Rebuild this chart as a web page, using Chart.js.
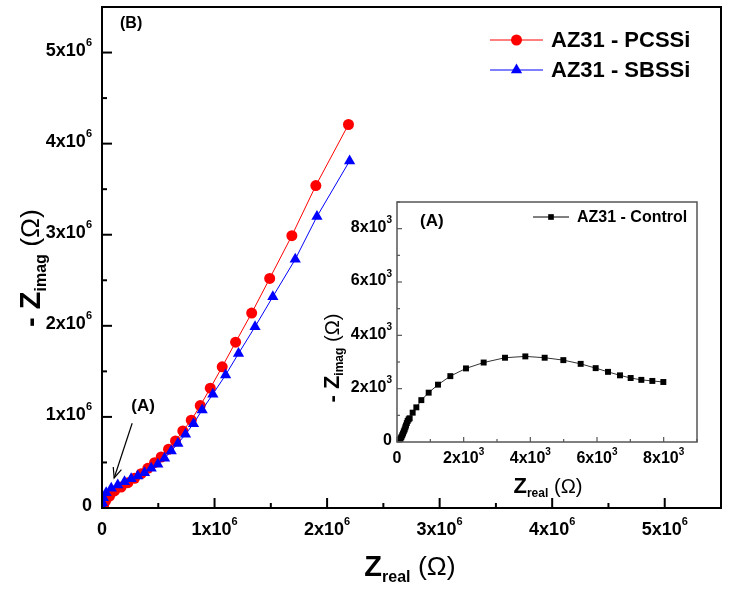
<!DOCTYPE html>
<html>
<head>
<meta charset="utf-8">
<script src="https://cdn.jsdelivr.net/npm/chart.js@4.4.0/dist/chart.umd.min.js"></script>
<style>
  html, body { margin: 0; padding: 0; background: #fff; }
  #wrap { position: relative; width: 729px; height: 591px; }
  #wrap canvas { position: absolute; left: 0; top: 0; }
  #inset { pointer-events: none; }
</style>
</head>
<body>
<div id="wrap">
  <canvas id="main" width="729" height="591"></canvas>
  <canvas id="inset" width="729" height="591"></canvas>
</div>
<script>
// main plot, values in ohm x 1e6
const pcssiRe = [0.004, 0.013, 0.031, 0.067, 0.111, 0.17, 0.23, 0.289, 0.348, 0.407, 0.467, 0.526, 0.591, 0.653, 0.718, 0.793, 0.873, 0.962, 1.068, 1.187, 1.33, 1.49, 1.687, 1.90, 2.19];
const pcssiIm = [0.005, 0.02, 0.077, 0.13, 0.187, 0.23, 0.278, 0.326, 0.377, 0.436, 0.498, 0.56, 0.645, 0.736, 0.846, 0.964, 1.124, 1.315, 1.55, 1.82, 2.14, 2.52, 2.99, 3.54, 4.21];
const sbssiRe = [0.002, 0.004, 0.013, 0.037, 0.082, 0.14, 0.2, 0.259, 0.318, 0.378, 0.437, 0.496, 0.556, 0.615, 0.674, 0.742, 0.813, 0.89, 0.985, 1.098, 1.213, 1.36, 1.518, 1.717, 1.91, 2.2];
const sbssiIm = [0.01, 0.058, 0.113, 0.168, 0.216, 0.253, 0.289, 0.322, 0.352, 0.388, 0.436, 0.48, 0.546, 0.626, 0.707, 0.81, 0.926, 1.077, 1.25, 1.46, 1.696, 1.99, 2.32, 2.73, 3.20, 3.81];

// inset, values in ohm
const controlRe = [20, 50, 80, 105, 130, 155, 180, 205, 230, 250, 270, 295, 320, 350, 380, 470, 580, 730, 950, 1230, 1600, 2070, 2600, 3240, 3850, 4430, 4990, 5510, 5960, 6330, 6690, 7010, 7330, 7660, 7990];
const controlIm = [0, 30, 80, 130, 180, 250, 320, 400, 470, 550, 620, 710, 790, 850, 890, 1100, 1300, 1570, 1850, 2150, 2470, 2760, 2980, 3160, 3210, 3160, 3070, 2930, 2770, 2630, 2500, 2400, 2330, 2290, 2250];

const mainTicks = [0, 1, 2, 3, 4, 5];   // x10^6
const insetTicks = [0, 2, 4, 6, 8];     // x10^3

const FONT = '"Liberation Sans", Arial, sans-serif';

const toPts = (xs, ys, k) => xs.map((x, i) => ({ x: x * k, y: ys[i] * k }));

// draw a run of text pieces (for sub/superscripts)
function drawParts(ctx, parts, x, y, align) {
    let w = 0;
    parts.forEach(p => { ctx.font = p.font; w += ctx.measureText(p.text).width; });
    let cx = align === 'right' ? x - w : align === 'center' ? x - w / 2 : x;
    ctx.textBaseline = 'middle';
    ctx.textAlign = 'left';
    parts.forEach(p => {
        ctx.font = p.font;
        ctx.fillText(p.text, cx, y + (p.dy || 0));
        cx += ctx.measureText(p.text).width;
    });
}

function tickParts(m, exp, big, small, rise) {
    if (m === 0) return [{ text: '0', font: 'bold ' + big + 'px ' + FONT }];
    return [
        { text: m + 'x10', font: 'bold ' + big + 'px ' + FONT },
        { text: String(exp), font: 'bold ' + small + 'px ' + FONT, dy: -rise }
    ];
}

function titleParts(pre, sub, size) {
    return [
        { text: pre, font: 'bold ' + size + 'px ' + FONT },
        { text: sub, font: 'bold ' + Math.round(size * 0.55) + 'px ' + FONT, dy: size * 0.32 },
        { text: ' (\u03A9)', font: size * 0.92 + 'px ' + FONT }
    ];
}

// frame, inward ticks, labels, titles
function axesPlugin(cfg) {
    return {
        id: 'axesDeco',
        afterDraw(chart) {
            const ctx = chart.ctx;
            const a = chart.chartArea;
            const xs = chart.scales.x, ys = chart.scales.y;
            ctx.save();
            ctx.strokeStyle = cfg.frameColor;
            ctx.lineWidth = cfg.frameWidth;
            ctx.strokeRect(a.left, a.top, a.right - a.left, a.bottom - a.top);

            ctx.lineWidth = cfg.tickWidth;
            xs.ticks.forEach(t => {
                const px = xs.getPixelForValue(t.value);
                const major = Math.abs(t.value / cfg.major - Math.round(t.value / cfg.major)) < 1e-6;
                const len = major ? cfg.majorLen : cfg.minorLen;
                ctx.beginPath(); ctx.moveTo(px, a.bottom); ctx.lineTo(px, a.bottom - len); ctx.stroke();
            });
            ys.ticks.forEach(t => {
                const py = ys.getPixelForValue(t.value);
                const major = Math.abs(t.value / cfg.major - Math.round(t.value / cfg.major)) < 1e-6;
                const len = major ? cfg.majorLen : cfg.minorLen;
                ctx.beginPath(); ctx.moveTo(a.left, py); ctx.lineTo(a.left + len, py); ctx.stroke();
            });

            ctx.fillStyle = '#000';
            cfg.labels.forEach(m => {
                const v = m * cfg.unit;
                drawParts(ctx, tickParts(m, cfg.exp, cfg.big, cfg.small, cfg.rise),
                    xs.getPixelForValue(v), a.bottom + cfg.xLabelGap, 'center');
                drawParts(ctx, tickParts(m, cfg.exp, cfg.big, cfg.small, cfg.rise),
                    a.left - cfg.yLabelGap, ys.getPixelForValue(v) + cfg.yLabelDy, 'right');
            });

            drawParts(ctx, titleParts('Z', 'real', cfg.titleSize), cfg.xTitle[0], cfg.xTitle[1], 'center');
            ctx.translate(cfg.yTitle[0], cfg.yTitle[1]);
            ctx.rotate(-Math.PI / 2);
            drawParts(ctx, titleParts('- Z', 'imag', cfg.titleSize), 0, 0, 'center');
            ctx.restore();
            if (cfg.extra) cfg.extra(chart);
        }
    };
}

function legendRow(ctx, x, y, color, style, r, text, size, lineLen) {
    ctx.save();
    ctx.strokeStyle = color;
    ctx.lineWidth = 1;
    ctx.beginPath(); ctx.moveTo(x, y); ctx.lineTo(x + lineLen * 2 + 2 * r, y); ctx.stroke();
    ctx.fillStyle = color;
    Chart.helpers.drawPoint(ctx, { pointStyle: style, radius: r, borderWidth: 0 }, x + lineLen + r, y);
    ctx.fillStyle = '#000';
    ctx.font = 'bold ' + size + 'px ' + FONT;
    ctx.textBaseline = 'middle';
    ctx.fillText(text, x + lineLen * 2 + 2 * r + 8, y + 1);
    ctx.restore();
}

new Chart(document.getElementById('main'), {
    type: 'scatter',
    data: {
        datasets: [
            {
                label: 'AZ31 - PCSSi',
                data: toPts(pcssiRe, pcssiIm, 1e6),
                showLine: true,
                borderColor: '#ff0000',
                backgroundColor: '#ff0000',
                borderWidth: 1,
                pointStyle: 'circle',
                pointRadius: 5.5,
                pointBorderWidth: 0,
                order: 1
            },
            {
                label: 'AZ31 - SBSSi',
                data: toPts(sbssiRe, sbssiIm, 1e6),
                showLine: true,
                borderColor: '#0000ff',
                backgroundColor: '#0000ff',
                borderWidth: 1,
                pointStyle: 'triangle',
                pointRadius: 6.5,
                pointBorderWidth: 0,
                order: 0
            }
        ]
    },
    options: {
        responsive: false,
        animation: false,
        layout: { padding: { left: 94, right: 8, top: 7, bottom: 75 } },
        plugins: { legend: { display: false }, tooltip: { enabled: false } },
        scales: {
            x: { type: 'linear', min: 0, max: 5.5e6, grid: { display: false }, border: { display: false }, ticks: { display: false, stepSize: 5e5 } },
            y: { type: 'linear', min: 0, max: 5.5e6, grid: { display: false }, border: { display: false }, ticks: { display: false, stepSize: 5e5 } }
        }
    },
    plugins: [axesPlugin({
        frameColor: '#000', frameWidth: 2, tickWidth: 2,
        major: 1e6, majorLen: 10, minorLen: 5,
        labels: mainTicks, unit: 1e6, exp: 6,
        big: 18, small: 11, rise: 8,
        xLabelGap: 22, yLabelGap: 10, yLabelDy: -2,
        titleSize: 29,
        xTitle: [410, 568], yTitle: [32, 268],
        extra(chart) {
            const ctx = chart.ctx;
            const xs = chart.scales.x, ys = chart.scales.y;
            ctx.save();
            ctx.fillStyle = '#000';
            ctx.font = 'bold 16px ' + FONT;
            ctx.textBaseline = 'middle';
            ctx.fillText('(B)', chart.chartArea.left + 18, chart.chartArea.top + 17);
            // arrow pointing at the low-frequency region
            const x0 = xs.getPixelForValue(0.268e6), y0 = ys.getPixelForValue(0.93e6);
            const x1 = xs.getPixelForValue(0.108e6), y1 = ys.getPixelForValue(0.33e6);
            ctx.strokeStyle = '#000';
            ctx.lineWidth = 1.2;
            ctx.beginPath(); ctx.moveTo(x0, y0); ctx.lineTo(x1, y1); ctx.stroke();
            const ang = Math.atan2(y1 - y0, x1 - x0);
            ctx.beginPath();
            ctx.moveTo(x1 - 11 * Math.cos(ang - 0.4), y1 - 11 * Math.sin(ang - 0.4));
            ctx.lineTo(x1, y1);
            ctx.lineTo(x1 - 11 * Math.cos(ang + 0.4), y1 - 11 * Math.sin(ang + 0.4));
            ctx.stroke();
            ctx.font = 'bold 17px ' + FONT;
            ctx.textAlign = 'center';
            ctx.fillText('(A)', xs.getPixelForValue(0.365e6), ys.getPixelForValue(1.12e6));
            ctx.restore();
            legendRow(ctx, 490, 40, '#ff0000', 'circle', 5.5, 'AZ31 - PCSSi', 22, 21);
            legendRow(ctx, 490, 70, '#0000ff', 'triangle', 6.5, 'AZ31 - SBSSi', 22, 20);
        }
    })]
});

new Chart(document.getElementById('inset'), {
    type: 'scatter',
    data: {
        datasets: [{
            label: 'AZ31 - Control',
            data: toPts(controlRe, controlIm, 1),
            showLine: true,
            borderColor: '#333',
            backgroundColor: '#000',
            borderWidth: 1,
            pointStyle: 'rect',
            pointRadius: 4.2,
            pointBorderWidth: 0
        }]
    },
    options: {
        responsive: false,
        animation: false,
        layout: { padding: { left: 389, right: 32, top: 202, bottom: 141 } },
        plugins: { legend: { display: false }, tooltip: { enabled: false } },
        scales: {
            x: { type: 'linear', min: 0, max: 9000, grid: { display: false }, border: { display: false }, ticks: { display: false, stepSize: 1000 } },
            y: { type: 'linear', min: 0, max: 9000, grid: { display: false }, border: { display: false }, ticks: { display: false, stepSize: 1000 } }
        }
    },
    plugins: [axesPlugin({
        frameColor: '#555', frameWidth: 1.5, tickWidth: 1.2,
        major: 2000, majorLen: 5, minorLen: 3,
        labels: insetTicks, unit: 1000, exp: 3,
        big: 16, small: 10, rise: 7,
        xLabelGap: 17, yLabelGap: 5, yLabelDy: -1,
        titleSize: 22,
        xTitle: [548, 487], yTitle: [333, 358],
        extra(chart) {
            const ctx = chart.ctx;
            ctx.save();
            ctx.fillStyle = '#000';
            ctx.font = 'bold 17px ' + FONT;
            ctx.textBaseline = 'middle';
            ctx.fillText('(A)', chart.chartArea.left + 23, chart.chartArea.top + 19);
            ctx.restore();
            legendRow(ctx, 533, 217, '#000', 'rect', 4, 'AZ31 - Control', 16, 14);
        }
    })]
});
</script>
</body>
</html>
